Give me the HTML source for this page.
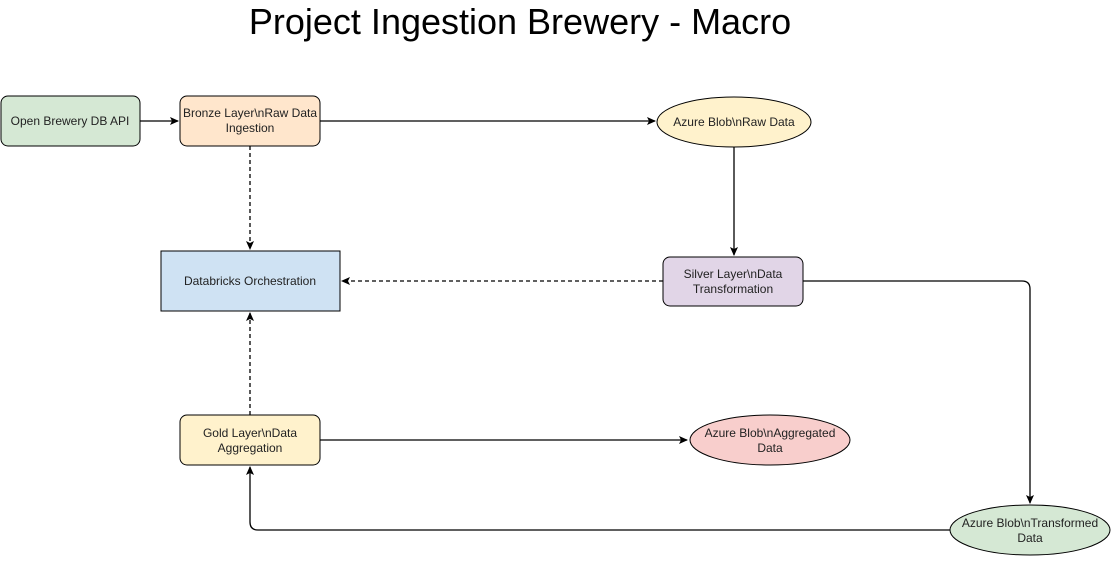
<!DOCTYPE html>
<html><head><meta charset="utf-8"><style>
body{margin:0;background:#fff;width:1111px;height:557px;overflow:hidden}
text{font-family:"Liberation Sans",sans-serif;font-size:12px;fill:#222}
</style></head><body>
<svg width="1111" height="557" viewBox="0 0 1111 557" xmlns="http://www.w3.org/2000/svg">
<defs><marker id="a" markerWidth="10" markerHeight="10" refX="8" refY="5" orient="auto" markerUnits="userSpaceOnUse"><path d="M0,1 L9,5 L0,9 L2,5 Z" fill="#000"/></marker></defs>
<text x="520" y="34" text-anchor="middle" style="font-size:36px;fill:#000">Project Ingestion Brewery - Macro</text>
<g stroke="#000" stroke-width="1.3" fill="none">
<path d="M140,121 H178" marker-end="url(#a)"/>
<path d="M320,121 H655" marker-end="url(#a)"/>
<path d="M734,147 V255" marker-end="url(#a)"/>
<path d="M250,146 V249" stroke-dasharray="4,3" marker-end="url(#a)"/>
<path d="M663,281 H342" stroke-dasharray="4,3" marker-end="url(#a)"/>
<path d="M250,415 V313" stroke-dasharray="4,3" marker-end="url(#a)"/>
<path d="M803,281 H1022 Q1030,281 1030,289 V503" marker-end="url(#a)"/>
<path d="M320,440 H687" marker-end="url(#a)"/>
<path d="M950,530 H258 Q250,530 250,522 V467" marker-end="url(#a)"/>
</g>
<g stroke="#000" stroke-width="1">
<rect x="1" y="96" width="139" height="50" rx="7" fill="#d5e8d4"/>
<rect x="180" y="96" width="140" height="50" rx="7" fill="#ffe6cc"/>
<rect x="161" y="251" width="179" height="60" fill="#cfe2f3"/>
<ellipse cx="734" cy="122" rx="77" ry="25" fill="#fff2cc"/>
<rect x="663" y="257" width="140" height="49" rx="7" fill="#e1d5e7"/>
<rect x="180" y="415" width="140" height="50" rx="7" fill="#fff2cc"/>
<ellipse cx="770" cy="440" rx="80" ry="25" fill="#f8cecc"/>
<ellipse cx="1030" cy="530" rx="80" ry="25" fill="#d5e8d4"/>
</g>
<text x="70" y="125" text-anchor="middle">Open Brewery DB API</text>
<text x="250" y="117" text-anchor="middle">Bronze Layer\nRaw Data</text>
<text x="250" y="132" text-anchor="middle">Ingestion</text>
<text x="250" y="285" text-anchor="middle">Databricks Orchestration</text>
<text x="734" y="126" text-anchor="middle">Azure Blob\nRaw Data</text>
<text x="733" y="278" text-anchor="middle">Silver Layer\nData</text>
<text x="733" y="293" text-anchor="middle">Transformation</text>
<text x="250" y="437" text-anchor="middle">Gold Layer\nData</text>
<text x="250" y="452" text-anchor="middle">Aggregation</text>
<text x="770" y="437" text-anchor="middle">Azure Blob\nAggregated</text>
<text x="770" y="452" text-anchor="middle">Data</text>
<text x="1030" y="527" text-anchor="middle">Azure Blob\nTransformed</text>
<text x="1030" y="542" text-anchor="middle">Data</text>
</svg>
</body></html>
